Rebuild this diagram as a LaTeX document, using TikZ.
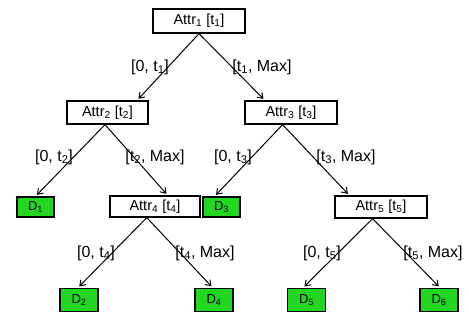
\documentclass[tikz,border=0pt]{standalone}
\usepackage{fontspec}
\setmainfont{Liberation Sans}
\usetikzlibrary{calc,arrows.meta}
\definecolor{dgreen}{RGB}{34,214,34}
\begin{document}
\begin{tikzpicture}[x=1pt,y=-1pt,
  attrbox/.style={draw=black,line width=1.3pt,fill=white,inner sep=0pt,font=\fontsize{14.5}{17}\selectfont},
  leafbox/.style={draw=black,line width=1.3pt,fill=dgreen,inner sep=0pt,minimum width=38pt,minimum height=21pt,font=\fontsize{13}{15}\selectfont},
  lbl/.style={inner sep=0pt,font=\fontsize{16}{18}\selectfont},
  conn/.style={line width=1pt,-{Straight Barb[length=5pt,width=7pt]},shorten >=2pt}]
\useasboundingbox (0,0) rectangle (469,320);
\node[attrbox,minimum width=92pt,minimum height=24pt] (a1) at (199,21) {Attr\textsubscript{1} [t\textsubscript{1}]};
\node[attrbox,minimum width=81pt,minimum height=23pt] (a2) at (107.5,112.5) {Attr\textsubscript{2} [t\textsubscript{2}]};
\node[attrbox,minimum width=92pt,minimum height=23pt] (a3) at (291,112.5) {Attr\textsubscript{3} [t\textsubscript{3}]};
\node[attrbox,minimum width=90pt,minimum height=21pt] (a4) at (155,206.5) {Attr\textsubscript{4} [t\textsubscript{4}]};
\node[attrbox,minimum width=92pt,minimum height=22pt] (a5) at (381,207) {Attr\textsubscript{5} [t\textsubscript{5}]};
\node[leafbox,minimum width=37pt,minimum height=20pt] (d1) at (35.5,207) {D\textsubscript{1}};
\node[leafbox,minimum width=37pt,minimum height=20pt] (d3) at (221.5,207) {D\textsubscript{3}};
\node[leafbox,minimum height=23pt] (d2) at (79,300) {D\textsubscript{2}};
\node[leafbox,minimum height=23pt] (d4) at (214,300) {D\textsubscript{4}};
\node[leafbox,minimum height=23pt] (d5) at (306.5,300) {D\textsubscript{5}};
\node[leafbox,minimum height=23pt] (d6) at (439,300) {D\textsubscript{6}};
% connectors
\draw[conn] (a1.south) -- ($(a2.north west)!0.86!(a2.north east)$);
\draw[conn] (a1.south) -- ($(a3.north west)!0.22!(a3.north east)$);
\draw[conn] ($(a2.south west)!0.47!(a2.south east)$) -- (d1.north);
\draw[conn] ($(a2.south west)!0.47!(a2.south east)$) -- ($(a4.north west)!0.64!(a4.north east)$);
\draw[conn] ($(a3.south west)!0.41!(a3.south east)$) -- ($(d3.north west)!0.32!(d3.north east)$);
\draw[conn] ($(a3.south west)!0.41!(a3.south east)$) -- ($(a5.north west)!0.16!(a5.north east)$);
\draw[conn] ($(a4.south west)!0.41!(a4.south east)$) -- ($(d2.north west)!0.47!(d2.north east)$);
\draw[conn] ($(a4.south west)!0.41!(a4.south east)$) -- ($(d4.north west)!0.47!(d4.north east)$);
\draw[conn] ($(a5.south west)!0.41!(a5.south east)$) -- ($(d5.north west)!0.41!(d5.north east)$);
\draw[conn] ($(a5.south west)!0.41!(a5.south east)$) -- ($(d6.north west)!0.53!(d6.north east)$);
% labels
\node[lbl] (l1) at (150,67) {[0, t\textsubscript{1}]};
\node[lbl] (l2) at (262,67) {[t\textsubscript{1}, Max]};
\node[lbl] (l3) at (54,157) {[0, t\textsubscript{2}]};
\node[lbl] (l4) at (155,157) {[t\textsubscript{2}, Max]};
\node[lbl] (l5) at (233,157) {[0, t\textsubscript{3}]};
\node[lbl] (l6) at (346,157) {[t\textsubscript{3}, Max]};
\node[lbl] (l7) at (96,253) {[0, t\textsubscript{4}]};
\node[lbl] (l8) at (205,253) {[t\textsubscript{4}, Max]};
\node[lbl] (l9) at (322,253) {[0, t\textsubscript{5}]};
\node[lbl] (l10) at (433,253) {[t\textsubscript{5}, Max]};
\end{tikzpicture}
\end{document}
